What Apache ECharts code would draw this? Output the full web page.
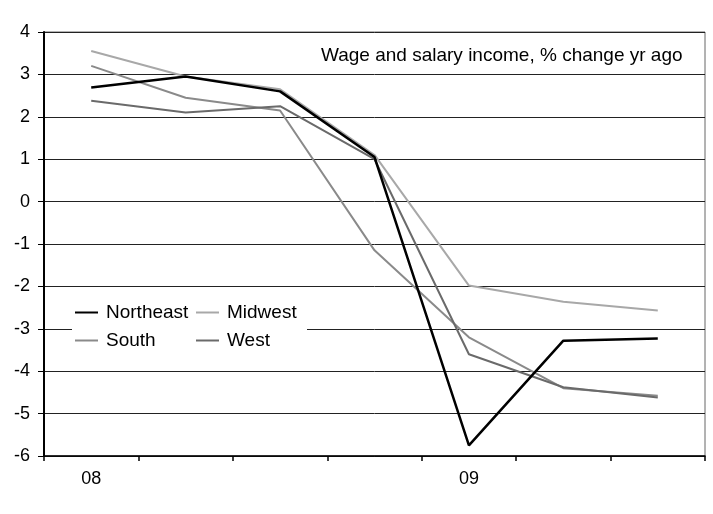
<!DOCTYPE html>
<html>
<head>
<meta charset="utf-8">
<script src="https://cdn.jsdelivr.net/npm/echarts@6/dist/echarts.min.js"></script>
<style>
  html, body { margin: 0; padding: 0; background: #fff; }
  #chart { width: 713px; height: 514px; }
</style>
</head>
<body>
<div id="chart"></div>
<script>
// quarters 2008Q1 .. 2009Q3
var categories = ['2008Q1', '2008Q2', '2008Q3', '2008Q4', '2009Q1', '2009Q2', '2009Q3'];
var tickLabels = ['08', '', '', '', '09', '', ''];
var northeast = [2.69, 2.95, 2.6, 1.05, -5.75, -3.28, -3.23];
var midwest = [3.55, 2.95, 2.65, 1.1, -1.98, -2.36, -2.57];
var south = [3.2, 2.45, 2.15, -1.15, -3.2, -4.4, -4.58];
var west = [2.38, 2.1, 2.25, 1.0, -3.6, -4.38, -4.62];

var FONT = '"Liberation Sans", Arial, sans-serif';
var myChart = echarts.init(document.getElementById('chart'));

function legendItem(name, left, top) {
  return {
    data: [name],
    left: left,
    top: top,
    icon: 'rect',
    itemWidth: 23,
    itemHeight: 2,
    itemGap: 0,
    padding: 0,
    textStyle: { fontFamily: FONT, fontSize: 19, color: '#000', padding: [0, 0, 0, 3] }
  };
}

function lineSeries(name, data, color, width) {
  return {
    name: name,
    type: 'line',
    data: data,
    symbol: 'none',
    z: name === 'Northeast' ? 5 : 3,
    lineStyle: { color: color, width: width },
    itemStyle: { color: color }
  };
}

myChart.setOption({
  animation: false,
  backgroundColor: '#fff',
  textStyle: { fontFamily: FONT },
  grid: {
    left: 44,
    right: 8,
    top: 32,
    bottom: 58,
    show: true,
    borderColor: '#666',
    borderWidth: 1
  },
  graphic: [
    {
      // white box behind the legend
      type: 'rect',
      shape: { x: 72, y: 292, width: 235, height: 72 },
      style: { fill: '#fff' },
      z: 2
    },
    {
      type: 'text',
      left: 321,
      top: 46,
      style: {
        text: 'Wage and salary income, % change yr ago',
        font: '19px ' + FONT,
        fill: '#000'
      },
      z: 10
    }
  ],
  legend: [
    legendItem('Northeast', 75, 303),
    legendItem('Midwest', 196, 303),
    legendItem('South', 75, 331),
    legendItem('West', 196, 331)
  ],
  xAxis: {
    type: 'category',
    data: categories,
    boundaryGap: true,
    axisLine: { onZero: false, lineStyle: { color: '#000', width: 1.5 } },
    axisTick: { show: true, length: 5, lineStyle: { color: '#000', width: 1.5 } },
    axisLabel: {
      fontFamily: FONT,
      fontSize: 18,
      color: '#000',
      margin: 14,
      interval: 0,
      formatter: function (v, i) { return tickLabels[i]; }
    },
    splitLine: { show: false }
  },
  yAxis: {
    type: 'value',
    min: -6,
    max: 4,
    interval: 1,
    axisLine: { show: true, lineStyle: { color: '#000', width: 2 } },
    axisTick: { show: true, length: 6, lineStyle: { color: '#000' } },
    axisLabel: { fontFamily: FONT, fontSize: 18, color: '#000', margin: 14 },
    splitLine: { show: true, lineStyle: { color: '#222', width: 1 } }
  },
  series: [
    lineSeries('Northeast', northeast, '#000', 2.5),
    lineSeries('Midwest', midwest, '#a8a8a8', 2),
    lineSeries('South', south, '#8a8a8a', 2),
    lineSeries('West', west, '#6a6a6a', 2)
  ]
});
</script>
</body>
</html>
